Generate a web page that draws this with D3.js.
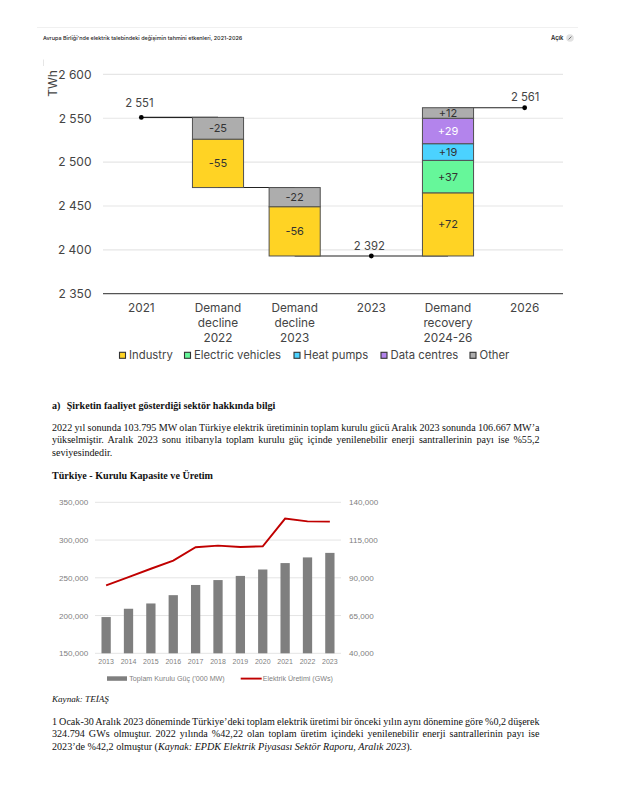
<!DOCTYPE html>
<html><head><meta charset="utf-8">
<script src="https://cdn.jsdelivr.net/npm/d3@7"></script>
<style>html,body{margin:0;background:#fff}svg{display:block}</style>
</head><body><svg id="c" width="621" height="791"></svg>
<script>
const waterfallCats = [["2021"],["Demand","decline","2022"],["Demand","decline","2023"],["2023"],["Demand","recovery","2024-26"],["2026"]];
const waterfallTicks = [2350,2400,2450,2500,2550,2600];
const sectorNames = ["Industry","Electric vehicles","Heat pumps","Data centres","Other"];
const sectorColors = ["#ffd324","#66f79a","#4bd2ff","#b384ec","#adadad"];
const decline2022 = [["Other",-25],["Industry",-55]];
const decline2023 = [["Other",-22],["Industry",-56]];
const recovery = [["Industry",72],["Electric vehicles",37],["Heat pumps",19],["Data centres",29],["Other",12]];
const totals = [["2021",2551],["2023",2392],["2026",2561]];

const years = ["2013","2014","2015","2016","2017","2018","2019","2020","2021","2022","2023"];
const capacity = [198000,209000,216000,227000,240500,247000,252500,261000,269500,277000,283000];
const generation = [85000,90500,96000,101400,110200,111300,110400,110900,129200,127400,127200];
const leftTicks = [150000,200000,250000,300000,350000];
const rightTicks = [40000,65000,90000,115000,140000];

const svg = d3.select("#c");
const sans = "Inter, 'Noto Sans', sans-serif", serif = "'Liberation Serif', serif", arial = "'Liberation Sans', sans-serif";
const spaceFmt = v => String(v).replace(/(\d)(\d{3})$/, "$1 $2");

// header
svg.append("line").attr("x1",37).attr("x2",578).attr("y1",27.5).attr("y2",27.5).attr("stroke","#f0f0f0");
svg.append("text").attr("x",43).attr("y",39.5).attr("font-family",sans).attr("font-size",5.45).attr("font-weight",500).attr("fill","#222")
  .text("Avrupa Birliği'nde elektrik talebindeki değişimin tahmini etkenleri, 2021-2026");
svg.append("text").attr("x",551).attr("y",39.5).attr("font-family",sans).attr("font-size",5.8).attr("font-weight",600).attr("fill","#222").text("Açık");
svg.append("circle").attr("cx",570).attr("cy",38).attr("r",3.8).attr("fill","#e2e2e2");
svg.append("path").attr("d",d3.line()([[568.6,39.4],[571.4,36.6]])).attr("stroke","#555").attr("stroke-width",.8);
svg.append("line").attr("x1",43.5).attr("x2",43.5).attr("y1",59.5).attr("y2",66).attr("stroke","#e6e6e6");

// waterfall
const wx = d3.scaleBand().domain(d3.range(waterfallCats.length)).range([103,563]).paddingInner(1/3).paddingOuter(1/6);
const wy = d3.scaleLinear().domain([2350,2600]).range([293.7,74.4]);
const wcx = i => wx(i)+wx.bandwidth()/2;
const ink = "#444";
const tf = svg.append("g");
tf.selectAll("line.g").data(waterfallTicks.filter(t=>t>2350)).join("line")
  .attr("x1",103).attr("x2",563).attr("y1",wy).attr("y2",wy).attr("stroke","#e6e6e6").attr("stroke-width",1.2);
tf.append("line").attr("x1",103).attr("x2",563).attr("y1",wy(2350)).attr("y2",wy(2350)).attr("stroke","#555").attr("stroke-width",1.2);
tf.selectAll("text.t").data(waterfallTicks).join("text")
  .attr("x",91.5).attr("y",d=>wy(d)+4.3).attr("text-anchor","end").attr("font-family",sans).attr("font-size",12).attr("fill",ink).text(spaceFmt);
tf.append("text").attr("transform","translate(56.5,83.5) rotate(-90)").attr("text-anchor","middle").attr("font-family",sans).attr("font-size",12).attr("fill",ink).text("TWh");

function stack(idx, items, start){
  let cur = start;
  items.forEach(([name,v])=>{
    const a=cur,b=cur+v; cur=b;
    const top=wy(Math.max(a,b)), bot=wy(Math.min(a,b));
    tf.append("rect").attr("x",wx(idx)).attr("y",top).attr("width",wx.bandwidth()).attr("height",bot-top)
      .attr("fill",sectorColors[sectorNames.indexOf(name)]).attr("stroke","#505050").attr("stroke-width",1);
    tf.append("text").attr("x",wcx(idx)).attr("y",(top+bot)/2+4).attr("text-anchor","middle").attr("font-family",sans).attr("font-size",11)
      .attr("fill",name==="Data centres"?"#fff":"#333").text((v>0?"+":"")+v);
  });
  return cur;
}
const conn=(i,j,v)=>tf.append("line").attr("x1",wcx(i)).attr("x2",wcx(j)).attr("y1",wy(v)).attr("y2",wy(v)).attr("stroke","#222").attr("stroke-width",1.1);
const s0=totals[0][1], s1=s0+d3.sum(decline2022,d=>d[1]), s2=s1+d3.sum(decline2023,d=>d[1]), s3=s2+d3.sum(recovery,d=>d[1]);
conn(0,1,s0); conn(1,2,s1); conn(2,4,s2); conn(4,5,s3);
stack(1,decline2022,s0);
stack(2,decline2023,s1);
stack(4,recovery,s2);
const totPos=[[0,s0,10],[3,s2,6],[5,s3,7]];
totals.forEach(([k,v],n)=>{
  const [i,pos,lift]=totPos[n];
  tf.append("circle").attr("cx",wcx(i)).attr("cy",wy(pos)).attr("r",2.4).attr("fill","#000");
  tf.append("text").attr("x",wcx(i)-(n==2?-.5:2)).attr("y",wy(pos)-lift).attr("text-anchor","middle").attr("font-family",sans).attr("font-size",11.3).attr("fill",ink).text(spaceFmt(v));
});
waterfallCats.forEach((lines,i)=>lines.forEach((l,k)=>{
  tf.append("text").attr("x",wcx(i)).attr("y",312+k*15).attr("text-anchor","middle").attr("font-family",sans).attr("font-size",11.8).attr("fill",ink).text(l);
}));
// legend
const legX=[119.5,184.5,294,381,470];
sectorNames.forEach((n,i)=>{
  tf.append("rect").attr("x",legX[i]).attr("y",352.3).attr("width",6).attr("height",6).attr("fill",sectorColors[i]).attr("stroke","#333").attr("stroke-width",1.1);
  tf.append("text").attr("x",legX[i]+9.5).attr("y",359).attr("font-family",sans).attr("font-size",11.3).attr("fill",ink).text(n);
});

// justified text
function para(x,y,str,opts={}){
  const w=opts.width;
  const t=svg.append("text").attr("x",x).attr("y",y).attr("font-family",serif).attr("font-size",opts.size||10.1).attr("fill","#111")
    .attr("font-weight",opts.bold?"bold":null).attr("font-style",opts.italic?"italic":null);
  (Array.isArray(str)?str:[[str,!!opts.italic]]).forEach(([s,it])=>t.append("tspan").attr("font-style",it?"italic":null).text(s));
  if(w){const n=t.text().split(" ").length-1;const len=t.node().getComputedTextLength();t.attr("word-spacing",(w-len)/n);}
}
const J=487.5;
para(52,408.5,"a)",{bold:true});
para(66.7,408.5,"Şirketin faaliyet gösterdiği sektör hakkında bilgi",{bold:true});
para(52,430.7,"2022 yıl sonunda 103.795 MW olan Türkiye elektrik üretiminin toplam kurulu gücü Aralık 2023 sonunda 106.667 MW’a",{width:J});
para(52,443.2,"yükselmiştir. Aralık 2023 sonu itibarıyla toplam kurulu güç içinde yenilenebilir enerji santrallerinin payı ise %55,2",{width:J});
para(52,455.7,"seviyesindedir.");
para(52,478.5,"Türkiye - Kurulu Kapasite ve Üretim",{bold:true});
para(52,702,"Kaynak: TEİAŞ",{italic:true,size:9.1});
para(52,724.5,"1 Ocak-30 Aralık 2023 döneminde Türkiye’deki toplam elektrik üretimi bir önceki yılın aynı dönemine göre %0,2 düşerek",{width:J});
para(52,737,"324.794 GWs olmuştur. 2022 yılında %42,22 olan toplam üretim içindeki yenilenebilir enerji santrallerinin payı ise",{width:J});
para(52,749.5,[["2023’de %42,2 olmuştur (",false],["Kaynak: EPDK Elektrik Piyasası Sektör Raporu, Aralık 2023",true],[").",false]]);

// combo chart
const bx=d3.scaleBand().domain(years).range([95,341]).paddingInner(.585).paddingOuter(.29);
const ly=d3.scaleLinear().domain([150000,350000]).range([653.3,502.3]);
const ry=d3.scaleLinear().domain([40000,140000]).range([653.3,502.3]);
const fmt=d3.format(",");
const cg=svg.append("g").attr("font-family",arial).attr("font-size",8.1).attr("fill","#7f7f7f");
cg.selectAll("line.g").data(leftTicks).join("line").attr("x1",95).attr("x2",341).attr("y1",ly).attr("y2",ly).attr("stroke","#e4e4e4").attr("stroke-width",1);
cg.selectAll("text.l").data(leftTicks).join("text").attr("x",88.3).attr("y",d=>ly(d)+3).attr("text-anchor","end").text(fmt);
cg.selectAll("text.r").data(rightTicks).join("text").attr("x",349).attr("y",d=>ry(d)+3).text(fmt);
cg.selectAll("rect.b").data(years).join("rect").attr("x",d=>bx(d)).attr("width",bx.bandwidth())
  .attr("y",(d,i)=>ly(capacity[i])).attr("height",(d,i)=>ly(150000)-ly(capacity[i])).attr("fill","#7f7f7f");
cg.append("path").attr("d",d3.line().x((d,i)=>bx(years[i])+bx.bandwidth()/2).y(d=>ry(d))(generation)).attr("fill","none").attr("stroke","#c00000").attr("stroke-width",1.9);
cg.selectAll("text.x").data(years).join("text").attr("x",d=>bx(d)+bx.bandwidth()/2).attr("y",664).attr("text-anchor","middle").attr("font-size",7).text(d=>d);
cg.append("rect").attr("x",107).attr("y",676.3).attr("width",20).attr("height",4.5).attr("fill","#7f7f7f");
cg.append("text").attr("x",129.3).attr("y",681).attr("font-size",7.15).text("Toplam Kurulu Güç ('000 MW)");
cg.append("line").attr("x1",240.7).attr("x2",261.7).attr("y1",678.6).attr("y2",678.6).attr("stroke","#c00000").attr("stroke-width",1.9);
cg.append("text").attr("x",262.7).attr("y",681).attr("font-size",7.1).text("Elektrik Üretimi (GWs)");
</script></body></html>
